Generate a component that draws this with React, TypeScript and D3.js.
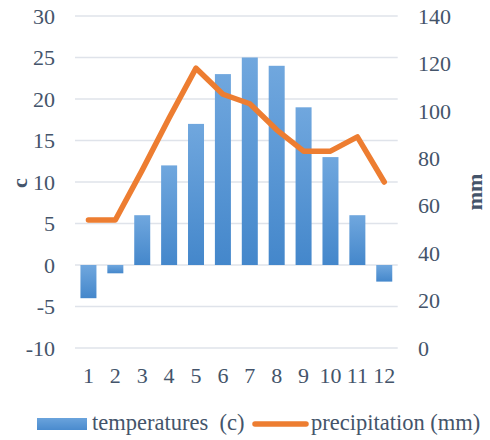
import React from "react";
import * as d3 from "d3";

const months = ["1", "2", "3", "4", "5", "6", "7", "8", "9", "10", "11", "12"];
const temperatures = [-4, -1, 6, 12, 17, 23, 25, 24, 19, 13, 6, -2];
const precipitation = [54, 54, 75, 97, 118, 107, 103, 92, 83, 83, 89, 70];
const leftTicks = [-10, -5, 0, 5, 10, 15, 20, 25, 30];
const rightTicks = [0, 20, 40, 60, 80, 100, 120, 140];
const seriesNames = ["temperatures  (c)", "precipitation (mm)"];

const W = 490;
const H = 440;
const plotLeft = 75;
const plotRight = 397.7;
const plotTop = 16;
const plotBottom = 348;
const textColor = "#44546a";
const font = "Liberation Serif, DejaVu Serif, serif";
const fs = 22;

export default function App() {
  const x = d3
    .scaleBand<string>()
    .domain(months)
    .range([plotLeft, plotRight])
    .paddingInner(0.405)
    .paddingOuter(0.2025);
  const yL = d3.scaleLinear().domain([-10, 30]).range([plotBottom, plotTop]);
  const yR = d3.scaleLinear().domain([0, 140]).range([plotBottom, plotTop]);

  const line = d3
    .line<number>()
    .x((_, i) => (x(months[i]) as number) + x.bandwidth() / 2)
    .y((d) => yR(d));

  return (
    <svg
      width={W}
      height={H}
      fontFamily={font}
      style={{ position: "absolute", left: 0, top: 0 }}
    >
      <defs>
        <linearGradient id="barGrad" x1="0" y1="0" x2="0" y2="1">
          <stop offset="0%" stopColor="#70a7de" />
          <stop offset="100%" stopColor="#4487cb" />
        </linearGradient>
        <linearGradient id="legGrad" x1="0" y1="0" x2="0" y2="1">
          <stop offset="0%" stopColor="#6aa3dc" />
          <stop offset="100%" stopColor="#4a8bce" />
        </linearGradient>
      </defs>
      <rect width={W} height={H} fill="#fff" />
      {leftTicks.map((t) => (
        <line
          key={"g" + t}
          x1={plotLeft}
          x2={plotRight}
          y1={yL(t)}
          y2={yL(t)}
          stroke="#dfe3ea"
          strokeWidth={1.6}
        />
      ))}
      {leftTicks.map((t) => (
        <text
          key={"l" + t}
          x={55}
          y={yL(t)}
          dy="0.35em"
          textAnchor="end"
          fontSize={fs}
          fontFamily={font}
          fill={textColor}
        >
          {t}
        </text>
      ))}
      {rightTicks.map((t) => (
        <text
          key={"r" + t}
          x={418}
          y={yR(t)}
          dy="0.35em"
          textAnchor="start"
          fontSize={fs}
          fontFamily={font}
          fill={textColor}
        >
          {t}
        </text>
      ))}
      {months.map((m) => (
        <text
          key={"x" + m}
          x={(x(m) as number) + x.bandwidth() / 2}
          y={383}
          textAnchor="middle"
          fontSize={fs}
          fontFamily={font}
          fill={textColor}
        >
          {m}
        </text>
      ))}
      {temperatures.map((v, i) => (
        <rect
          key={"b" + i}
          x={x(months[i]) as number}
          y={Math.min(yL(v), yL(0))}
          width={x.bandwidth()}
          height={Math.abs(yL(v) - yL(0))}
          fill="url(#barGrad)"
        />
      ))}
      <path
        d={line(precipitation) || ""}
        fill="none"
        stroke="#ed7d31"
        strokeWidth={5.5}
        strokeLinejoin="round"
        strokeLinecap="round"
      />
      <text
        transform={`translate(27,183) rotate(-90)`}
        textAnchor="middle"
        fontSize={fs}
        fontWeight="bold"
        fontFamily={font}
        fill={textColor}
      >
        c
      </text>
      <text
        transform={`translate(482,192) rotate(-90)`}
        textAnchor="middle"
        fontSize={fs}
        fontWeight="bold"
        fontFamily={font}
        fill={textColor}
      >
        mm
      </text>
      <rect x={37} y={418} width={50} height={12} fill="url(#legGrad)" />
      <text x={92} y={430} fontSize={22.5} fontFamily={font} fill={textColor} style={{ whiteSpace: "pre" }}>
        {seriesNames[0]}
      </text>
      <line
        x1={255}
        x2={306}
        y1={424}
        y2={424}
        stroke="#ed7d31"
        strokeWidth={5.5}
        strokeLinecap="round"
      />
      <text x={311} y={430} fontSize={22.5} fontFamily={font} fill={textColor}>
        {seriesNames[1]}
      </text>
    </svg>
  );
}
